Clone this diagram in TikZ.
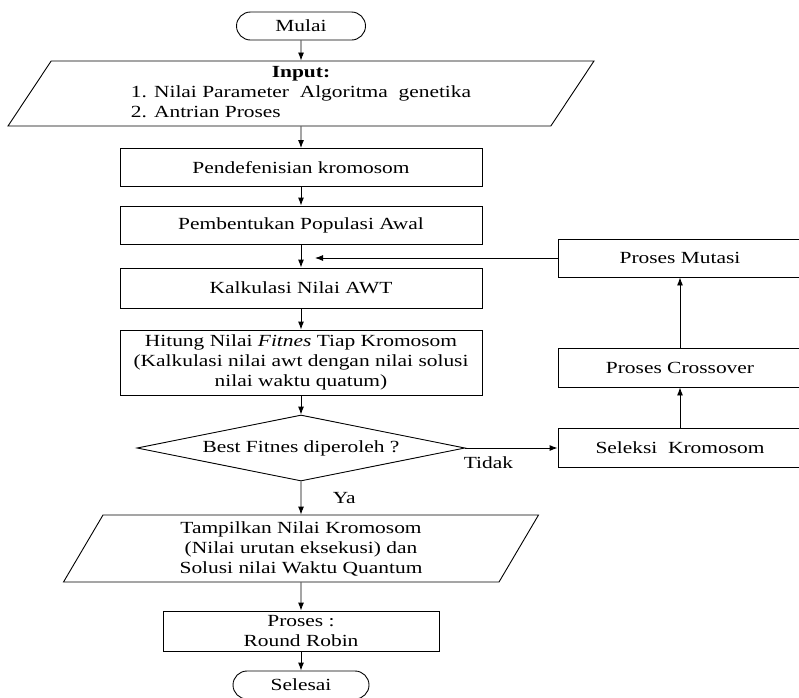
\documentclass[tikz,border=0pt]{standalone}
\usepackage{fontspec}
\setmainfont{Liberation Serif}[FakeStretch=1.26]
\usetikzlibrary{shapes.geometric,arrows.meta}

\tikzset{
    box/.style={draw, rectangle, minimum width=362pt, minimum height=38pt,
        inner sep=2pt},
    sidebox/.style={draw, rectangle, minimum width=244pt, minimum height=39pt},
    io/.style={draw, trapezium, trapezium left angle=56,
        trapezium right angle=124, trapezium stretches body, inner sep=2pt},
    term/.style={draw, rounded corners=14pt, minimum height=28pt,
        inner sep=0pt},
    decision/.style={draw, diamond, aspect=5, minimum width=328pt,
        minimum height=66pt, inner sep=0pt}
}

\begin{document}
\begin{tikzpicture}[x=1pt, y=-1pt, line width=0.9pt,
        font=\fontsize{17}{20}\selectfont,
        >={Latex[length=8pt,width=6pt]}]
            \useasboundingbox (0,0) rectangle (799,697);
            \node[term, minimum width=129pt] (mulai) at (301,26) {Mulai};
            \node[io, minimum width=586pt, minimum height=65pt] (input)
                at (301,93.5) {\begin{tabular}{@{}l@{}}
                \multicolumn{1}{@{}c@{}}{\textbf{Input:}}\\
                1. Nilai Parameter\ \ Algoritma\ \ genetika\\
                2. Antrian Proses\end{tabular}};
            \node[box] (definisi) at (301,167.5) {Pendefenisian kromosom};
            \node[box] (populasi) at (301,225) {Pembentukan Populasi Awal};
            \node[box, minimum height=40pt] (awt) at (301,288)
                {Kalkulasi Nilai AWT};
            \node[box, minimum height=65pt, align=center] (fitnes)
                at (301,362.5) {Hitung Nilai \textit{Fitnes} Tiap Kromosom\\
                (Kalkulasi nilai awt dengan nilai solusi\\
                nilai waktu quatum)};
            \node[decision] (cek) at (301,448) {Best Fitnes diperoleh ?};
            \node[sidebox] (seleksi) at (680,448) {Seleksi\ \ Kromosom};
            \node[sidebox] (crossover) at (680,367.5) {Proses Crossover};
            \node[sidebox, minimum height=38pt] (mutasi) at (680,258)
                {Proses Mutasi};
            \coordinate (balik) at (315,258);
            \node[io, minimum width=475pt, minimum height=67pt, align=center]
                (hasil) at (301,548.5) {Tampilkan Nilai Kromosom\\
                (Nilai urutan eksekusi) dan\\Solusi nilai Waktu Quantum};
            \node[draw, minimum width=276pt, minimum height=40pt,
                inner sep=1pt, align=center] (rr) at (301,631)
                {Proses :\\Round Robin};
            \node[term, minimum width=136pt] (selesai) at (301,685) {Selesai};
            \draw[->] (mulai) -- (input);
            \draw[->] (input) -- (definisi);
            \draw[->] (definisi) -- (populasi);
            \draw[->] (populasi) -- (awt);
            \draw[->] (awt) -- (fitnes);
            \draw[->] (fitnes) -- (cek);
            \draw[->] (cek) -- (hasil) node[midway, right=28pt]{Ya};
            \draw[->] (cek) -- (seleksi) node[pos=0.25, below=5pt]{Tidak};
            \draw[->] (seleksi) -- (crossover);
            \draw[->] (crossover) -- (mutasi);
            \draw[->] (mutasi) -- (balik);
            \draw[->] (hasil) -- (rr);
            \draw[->] (rr) -- (selesai);
        \end{tikzpicture}
\end{document}
